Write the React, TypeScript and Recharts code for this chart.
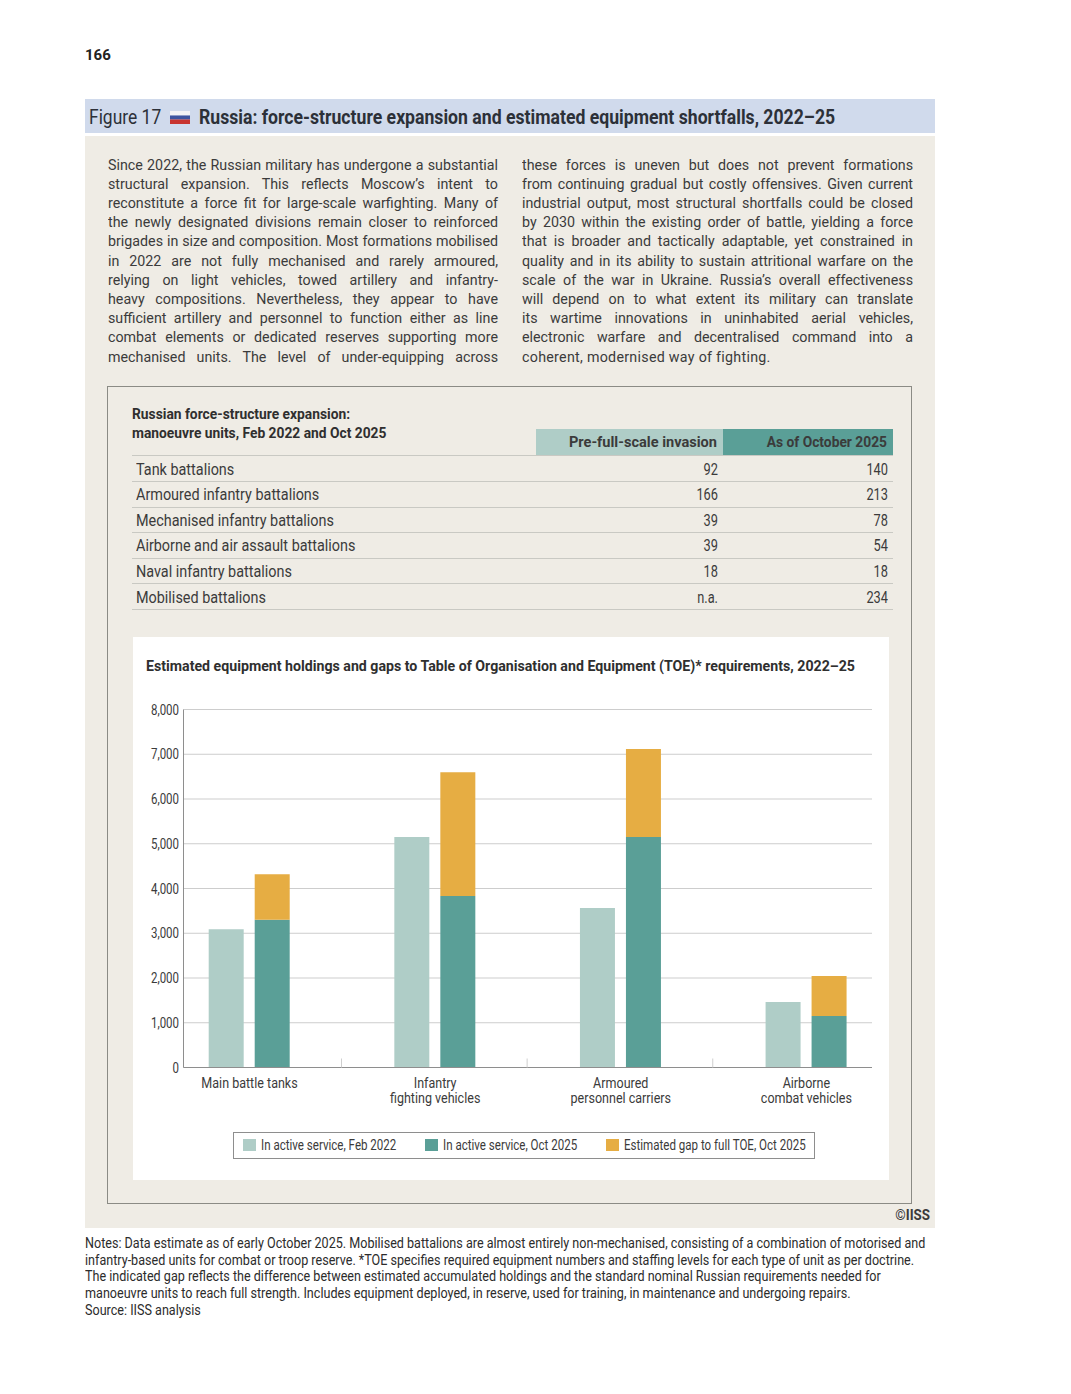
import React from 'react';
import {
  BarChart,
  Bar,
  XAxis,
  YAxis,
  CartesianGrid,
  Legend,
} from 'recharts';

const categories = ['Main battle tanks', 'Infantry\nfighting vehicles', 'Armoured\npersonnel carriers', 'Airborne\ncombat vehicles'];
const activeFeb2022 = [3090, 5150, 3565, 1465];
const activeOct2025 = [3300, 3830, 5150, 1150];
const gapToToe = [1020, 2770, 1970, 895];
const yTicks = [0, 1000, 2000, 3000, 4000, 5000, 6000, 7000, 8000];

const unitRows = ['Tank battalions', 'Armoured infantry battalions', 'Mechanised infantry battalions', 'Airborne and air assault battalions', 'Naval infantry battalions', 'Mobilised battalions'];
const preInvasion = ['92', '166', '39', '39', '18', 'n.a.'];
const october2025 = ['140', '213', '78', '54', '18', '234'];

const leftColumn = [
  'Since 2022, the Russian military has undergone a substantial',
  'structural expansion. This reflects Moscow’s intent to',
  'reconstitute a force fit for large-scale warfighting. Many of',
  'the newly designated divisions remain closer to reinforced',
  'brigades in size and composition. Most formations mobilised',
  'in 2022 are not fully mechanised and rarely armoured,',
  'relying on light vehicles, towed artillery and infantry-',
  'heavy compositions. Nevertheless, they appear to have',
  'sufficient artillery and personnel to function either as line',
  'combat elements or dedicated reserves supporting more',
  'mechanised units. The level of under-equipping across',
];
const rightColumn = [
  'these forces is uneven but does not prevent formations',
  'from continuing gradual but costly offensives. Given current',
  'industrial output, most structural shortfalls could be closed',
  'by 2030 within the existing order of battle, yielding a force',
  'that is broader and tactically adaptable, yet constrained in',
  'quality and in its ability to sustain attritional warfare on the',
  'scale of the war in Ukraine. Russia’s overall effectiveness',
  'will depend on to what extent its military can translate',
  'its wartime innovations in uninhabited aerial vehicles,',
  'electronic warfare and decentralised command into a',
];
const lastRightLine = 'coherent, modernised way of fighting.';
const notes = [
  'Notes: Data estimate as of early October 2025. Mobilised battalions are almost entirely non-mechanised, consisting of a combination of motorised and',
  'infantry-based units for combat or troop reserve. *TOE specifies required equipment numbers and staffing levels for each type of unit as per doctrine.',
  'The indicated gap reflects the difference between estimated accumulated holdings and the standard nominal Russian requirements needed for',
  'manoeuvre units to reach full strength. Includes equipment deployed, in reserve, used for training, in maintenance and undergoing repairs.',
  'Source: IISS analysis',
];

const chartData = categories.map((name, i) => ({
  name,
  feb: activeFeb2022[i],
  oct: activeOct2025[i],
  gap: gapToToe[i],
}));

const FONT = 'Roboto, sans-serif';
const INK = '#3b3b3b';
const BODY_SCALE = 0.92;

// no condensed face is installed, so Roboto gets squeezed horizontally
const squeeze = (k: number, origin = 'left') => ({
  transform: `scaleX(${k})`,
  transformOrigin: `${origin} top`,
  whiteSpace: 'nowrap' as const,
});

const CategoryTick = ({ x, y, payload, index }: any) => {
  const lines = String(payload.value).split('\n');
  return (
    <g>
      {index < categories.length - 1 && (
        <line x1={x + 92} x2={x + 92} y1={y - 9} y2={y} stroke="#cfcfcf" />
      )}
      <text transform={`translate(${x} ${y + 20}) scale(0.865 1)`} textAnchor="middle" fontSize={14.5} fontFamily={FONT} fill={INK}>
        {lines.map((line, i) => (
          <tspan key={i} x={0} dy={i === 0 ? 0 : 16}>{line}</tspan>
        ))}
      </text>
    </g>
  );
};

const ValueTick = ({ x, y, payload }: any) => (
  <text transform={`translate(${x + 0.5} ${y + 5}) scale(0.82 1)`} textAnchor="end" fontSize={14} fontFamily={FONT} fill={INK}>
    {Number(payload.value).toLocaleString('en-US')}
  </text>
);

const LegendBox = ({ payload }: any) => (
  <div style={{ width: 582, height: 27, boxSizing: 'border-box', border: '1px solid #8e8e8e', position: 'relative', fontFamily: FONT, fontSize: 14, color: INK }}>
    {(payload || []).map((item: any, i: number) => (
      <div key={item.value} style={{ position: 'absolute', left: [9, 191, 372][i], top: 6 }}>
        <span style={{ position: 'absolute', left: 0, top: 0, width: 13, height: 12, background: item.color }} />
        <span style={{ position: 'absolute', left: 18, top: 0, lineHeight: '13px', ...squeeze(0.825) }}>{item.value}</span>
      </div>
    ))}
  </div>
);

const Abs = ({ x, y, w, h, style, children }: any) => (
  <div style={{ position: 'absolute', left: x, top: y, width: w, height: h, ...style }}>{children}</div>
);

const justified = { textAlign: 'justify', textAlignLast: 'justify', whiteSpace: 'nowrap' } as const;

export default function App() {
  return (
    <div style={{ position: 'absolute', left: 0, top: 0, width: 1071, height: 1394, background: '#fff', fontFamily: FONT, color: INK, overflow: 'hidden' }}>
      <Abs x={85} y={46} style={{ fontSize: 15, fontWeight: 700, color: '#222' }}>166</Abs>

      <Abs x={85} y={99} w={850} h={34} style={{ background: '#d0daec' }} />
      <Abs x={89} y={105} style={{ fontSize: 21, lineHeight: '24px', color: '#2c3038', ...squeeze(0.83) }}>Figure 17</Abs>
      <svg style={{ position: 'absolute', left: 170, top: 111 }} width={20} height={13}>
        <rect width={20} height={4.5} fill="#f4f4f6" />
        <rect y={4.5} width={20} height={4} fill="#3f55a0" />
        <rect y={8.5} width={20} height={4.5} fill="#c8342f" />
      </svg>
      <Abs x={199} y={105} style={{ fontSize: 21, lineHeight: '24px', fontWeight: 700, color: '#2c3038', ...squeeze(0.84) }}>
        Russia: force-structure expansion and estimated equipment shortfalls, 2022–25
      </Abs>

      <Abs x={85} y={136} w={850} h={1092} style={{ background: '#efece5' }} />

      <Abs x={108} y={155.5} w={390 / BODY_SCALE} style={{ fontSize: 15.5, lineHeight: '19.2px', ...squeeze(BODY_SCALE) }}>
        {leftColumn.map((line) => <div key={line} style={justified}>{line}</div>)}
      </Abs>
      <Abs x={522} y={155.5} w={391 / BODY_SCALE} style={{ fontSize: 15.5, lineHeight: '19.2px', ...squeeze(BODY_SCALE) }}>
        {rightColumn.map((line) => <div key={line} style={justified}>{line}</div>)}
        <div style={{ whiteSpace: 'nowrap', letterSpacing: 0.3 }}>{lastRightLine}</div>
      </Abs>

      <Abs x={107} y={386} w={805} h={818} style={{ border: '1px solid #8b8b85', boxSizing: 'border-box' }} />

      <Abs x={132} y={405} style={{ fontSize: 15.5, lineHeight: '19px', fontWeight: 700, color: '#2f2f2f', ...squeeze(0.89) }}>
        Russian force-structure expansion:<br />manoeuvre units, Feb 2022 and Oct 2025
      </Abs>
      <Abs x={536} y={429} w={187} h={27} style={{ background: '#afcdc7' }} />
      <Abs x={723} y={429} w={170} h={27} style={{ background: '#5a9f97' }} />
      <Abs x={517} y={429} w={200} h={26} style={{ fontSize: 15.5, fontWeight: 700, lineHeight: '26px', textAlign: 'right', ...squeeze(0.94, 'right') }}>
        Pre-full-scale invasion
      </Abs>
      <Abs x={687} y={429} w={200} h={26} style={{ fontSize: 15.5, fontWeight: 700, lineHeight: '26px', textAlign: 'right', ...squeeze(0.89, 'right') }}>
        As of October 2025
      </Abs>
      <Abs x={132} y={455} w={761} h={1} style={{ background: '#c9c9c3' }} />
      {unitRows.map((row, i) => {
        const top = 456.5 + i * 25.6;
        return (
          <React.Fragment key={row}>
            <Abs x={136} y={top} h={25} style={{ fontSize: 16, lineHeight: '25px', ...squeeze(0.9) }}>{row}</Abs>
            <Abs x={618} y={top} w={100} h={25} style={{ fontSize: 16, lineHeight: '25px', textAlign: 'right', ...squeeze(0.8, 'right') }}>{preInvasion[i]}</Abs>
            <Abs x={788} y={top} w={100} h={25} style={{ fontSize: 16, lineHeight: '25px', textAlign: 'right', ...squeeze(0.8, 'right') }}>{october2025[i]}</Abs>
            <Abs x={132} y={top + 24.5} w={761} h={1} style={{ background: '#c9c9c3' }} />
          </React.Fragment>
        );
      })}

      <Abs x={133} y={637} w={756} h={543} style={{ background: '#fff' }}>
        <div style={{ position: 'absolute', left: 13, top: 20, fontSize: 15.5, lineHeight: '18px', fontWeight: 700, color: '#2f2f2f', ...squeeze(0.914) }}>
          Estimated equipment holdings and gaps to Table of Organisation and Equipment (TOE)* requirements, 2022–25
        </div>
        <BarChart
          width={756}
          height={543}
          data={chartData}
          margin={{ top: 72.5, right: 17, left: 0, bottom: 52.5 }}
          barSize={35}
          barGap={11}
          style={{ position: 'absolute', left: 0, top: 0 }}
        >
          <CartesianGrid vertical={false} stroke="#cdcdcd" />
          <XAxis
            dataKey="name"
            height={60}
            padding={{ left: -26.8, right: -27.2 }}
            stroke="#8e8e8e"
            tickLine={false}
            tickSize={0}
            tickMargin={0}
            interval={0}
            tick={<CategoryTick />}
          />
          <YAxis
            width={50.5}
            domain={[0, 8000]}
            ticks={yTicks}
            interval={0}
            stroke="#8e8e8e"
            tickLine={false}
            tickSize={0}
            tickMargin={5}
            tick={<ValueTick />}
          />
          <Legend
            layout="horizontal"
            verticalAlign="middle"
            itemSorter={null}
            content={<LegendBox />}
            wrapperStyle={{ left: 100, top: 495, width: 582, height: 27 }}
          />
          <Bar dataKey="feb" name="In active service, Feb 2022" stackId="feb" fill="#afcdc7" isAnimationActive={false} />
          <Bar dataKey="oct" name="In active service, Oct 2025" stackId="oct" fill="#5a9f97" isAnimationActive={false} />
          <Bar dataKey="gap" name="Estimated gap to full TOE, Oct 2025" stackId="oct" fill="#e6ad43" isAnimationActive={false} />
        </BarChart>
      </Abs>

      <Abs x={830} y={1207} w={100} style={{ fontSize: 14.5, fontWeight: 700, textAlign: 'right', color: '#3a3a3a', ...squeeze(0.92, 'right') }}>©IISS</Abs>

      <Abs x={85} y={1235} style={{ fontSize: 14.2, lineHeight: '16.7px', color: '#2c2c2c', ...squeeze(0.887) }}>
        {notes.map((line) => <div key={line}>{line}</div>)}
      </Abs>
    </div>
  );
}
